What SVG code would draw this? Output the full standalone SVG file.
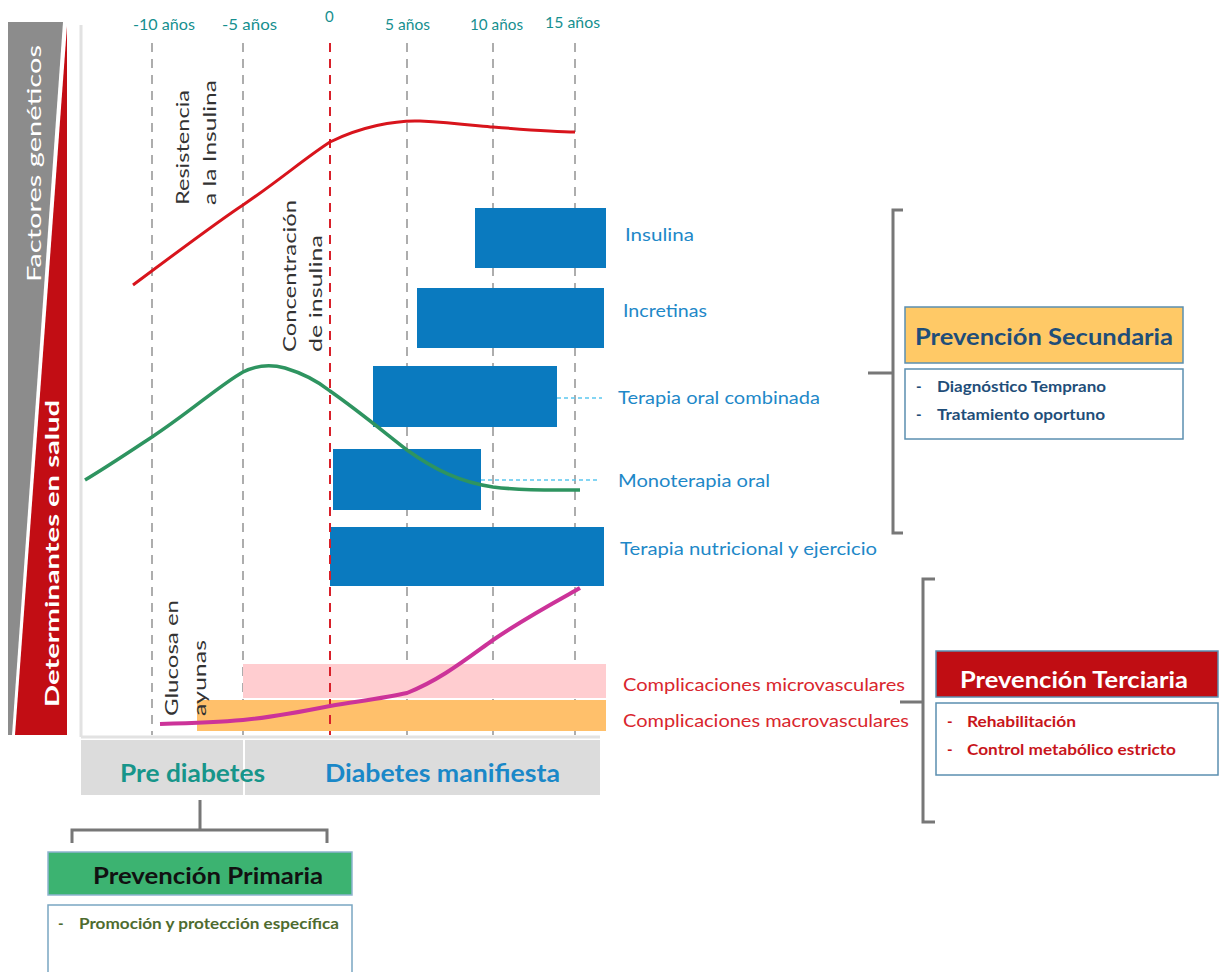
<svg xmlns="http://www.w3.org/2000/svg" width="1220" height="972" viewBox="0 0 1220 972">
<defs>
<style>
text{font-family:Lato,"Liberation Sans",sans-serif}
.yr{fill:#168f8f;font-size:15px}
.grid{stroke:#999;stroke-width:1.6;stroke-dasharray:9 7;fill:none}
.bar{fill:#0a7abf}
.tl{fill:#1e88c8;font-size:18px}
.cl{fill:#d9262e;font-size:18px}
.vt{fill:#333;font-size:17px}
.br{stroke:#777;stroke-width:3;fill:none}
.hb{font-weight:bold;font-size:22px}
.it{font-weight:bold;font-size:15px}
</style>
</defs>
<rect width="1220" height="972" fill="#fff"/>
<g id="side">
<polygon points="8,22 63,22 12,735 8,735" fill="#8c8c8c"/>
<polygon points="67,26 67,735 15,735" fill="#c20d14"/>
<text transform="translate(41,282) rotate(-90)" fill="#fff" font-size="20" textLength="237" lengthAdjust="spacingAndGlyphs">Factores genéticos</text>
<text transform="translate(59,707) rotate(-90)" fill="#fff" font-size="19" font-weight="bold" textLength="307" lengthAdjust="spacingAndGlyphs">Determinantes en salud</text>
</g>
<g id="axes">
<line x1="81" y1="25" x2="81" y2="737" stroke="#e2e2e2" stroke-width="3"/>
<line x1="81" y1="737" x2="600" y2="737" stroke="#e2e2e2" stroke-width="3"/>
</g>
<g id="years">
<text class="yr" x="133" y="30" textLength="62" lengthAdjust="spacingAndGlyphs">-10 años</text>
<text class="yr" x="222" y="30" textLength="55" lengthAdjust="spacingAndGlyphs">-5 años</text>
<text class="yr" x="325" y="22">0</text>
<text class="yr" x="385" y="30" textLength="45" lengthAdjust="spacingAndGlyphs">5 años</text>
<text class="yr" x="470" y="30" textLength="53" lengthAdjust="spacingAndGlyphs">10 años</text>
<text class="yr" x="545" y="28" textLength="55" lengthAdjust="spacingAndGlyphs">15 años</text>
</g>
<g id="grid">
<line class="grid" x1="152" y1="43" x2="152" y2="735"/>
<line class="grid" x1="243" y1="43" x2="243" y2="735"/>
<line class="grid" x1="407" y1="43" x2="407" y2="735"/>
<line class="grid" x1="493" y1="43" x2="493" y2="735"/>
<line class="grid" x1="575" y1="43" x2="575" y2="735"/>
</g>
<g id="bands">
<rect x="243" y="664" width="363" height="34" fill="#ffcdd0"/>
<rect x="197" y="700" width="409" height="31" fill="#ffc06b"/>
</g>
<g id="bars">
<rect class="bar" x="475" y="208" width="131" height="60"/>
<rect class="bar" x="417" y="288" width="187" height="60"/>
<rect class="bar" x="373" y="366" width="184" height="61"/>
<rect class="bar" x="333" y="449" width="148" height="61"/>
<rect class="bar" x="330" y="527" width="274" height="59"/>
</g>
<line class="grid" x1="330" y1="43" x2="330" y2="735" style="stroke:#d8202a;stroke-width:2"/>
<g id="connectors">
<line x1="557" y1="398" x2="602" y2="398" stroke="#5cc8f0" stroke-width="1.5" stroke-dasharray="4 3"/>
<line x1="481" y1="480" x2="600" y2="480" stroke="#5cc8f0" stroke-width="1.5" stroke-dasharray="4 3"/>
</g>
<g id="curves">
<path d="M133,285 C180,250 220,220 243,205 C280,180 305,158 330,142 C360,127 395,120 420,121 C455,123 480,126 493,127 C530,130 555,132 575,132" fill="none" stroke="#d8141c" stroke-width="3"/>
<path d="M85,480 C110,465 135,448 152,437 C190,412 220,385 243,372 C255,366 270,364 285,368 C305,374 320,383 330,391 C360,412 385,433 407,450 C435,470 460,482 493,487 C525,491 550,490 580,490" fill="none" stroke="#2e9460" stroke-width="3.5"/>
<path d="M160,724 C195,723 220,722 243,720 C275,717 305,711 330,706 C360,701 385,698 407,693 C440,680 465,660 493,640 C525,618 555,602 580,588" fill="none" stroke="#cc3399" stroke-width="4"/>
</g>
<g id="curve-labels">
<text class="vt" transform="translate(189,205) rotate(-90)" textLength="115" lengthAdjust="spacingAndGlyphs">Resistencia</text>
<text class="vt" transform="translate(216,205) rotate(-90)" textLength="125" lengthAdjust="spacingAndGlyphs">a la Insulina</text>
<text class="vt" transform="translate(296,352) rotate(-90)" textLength="152" lengthAdjust="spacingAndGlyphs">Concentración</text>
<text class="vt" transform="translate(322,352) rotate(-90)" textLength="117" lengthAdjust="spacingAndGlyphs">de insulina</text>
<text class="vt" transform="translate(178,716) rotate(-90)" textLength="116" lengthAdjust="spacingAndGlyphs">Glucosa en</text>
<text class="vt" transform="translate(206,716) rotate(-90)" textLength="76" lengthAdjust="spacingAndGlyphs">ayunas</text>
</g>
<g id="therapy-labels">
<text class="tl" x="625" y="241" textLength="69" lengthAdjust="spacingAndGlyphs">Insulina</text>
<text class="tl" x="623" y="317" textLength="84" lengthAdjust="spacingAndGlyphs">Incretinas</text>
<text class="tl" x="618" y="404" textLength="202" lengthAdjust="spacingAndGlyphs">Terapia oral combinada</text>
<text class="tl" x="618" y="487" textLength="152" lengthAdjust="spacingAndGlyphs">Monoterapia oral</text>
<text class="tl" x="620" y="555" textLength="257" lengthAdjust="spacingAndGlyphs">Terapia nutricional y ejercicio</text>
<text class="cl" x="623" y="691" textLength="282" lengthAdjust="spacingAndGlyphs">Complicaciones microvasculares</text>
<text class="cl" x="623" y="727" textLength="286" lengthAdjust="spacingAndGlyphs">Complicaciones macrovasculares</text>
</g>
<g id="phases">
<rect x="81" y="740" width="519" height="55" fill="#dcdcdc"/>
<line x1="244" y1="740" x2="244" y2="795" stroke="#fff" stroke-width="2"/>
<text x="120" y="782" fill="#17958a" font-size="24" font-weight="bold" textLength="145" lengthAdjust="spacingAndGlyphs">Pre diabetes</text>
<text x="325" y="782" fill="#1a88c8" font-size="24" font-weight="bold" textLength="235" lengthAdjust="spacingAndGlyphs">Diabetes manifiesta</text>
</g>
<g id="brackets">
<path class="br" d="M200,800 V830 M72,843 V830 H327 V843"/>
<path class="br" d="M903,210 H893 V533 H903 M868,373 H893"/>
<path class="br" d="M935,579 H923 V822 H935 M900,702 H923"/>
</g>
<g id="primaria">
<rect x="48" y="852" width="304" height="43" fill="#3cb371" stroke="#8fb4d0" stroke-width="1.5"/>
<text class="hb" x="93" y="884" fill="#111" textLength="230" lengthAdjust="spacingAndGlyphs">Prevención Primaria</text>
<rect x="48" y="905" width="304" height="75" fill="#fff" stroke="#7aa6c2" stroke-width="1.5"/>
<text class="it" x="58" y="929" fill="#4e6b2f">-</text>
<text class="it" x="79" y="929" fill="#4e6b2f" textLength="260" lengthAdjust="spacingAndGlyphs">Promoción y protección específica</text>
</g>
<g id="secundaria">
<rect x="905" y="307" width="278" height="56" fill="#ffc966" stroke="#5b8fb0" stroke-width="1.5"/>
<text class="hb" x="915" y="345" fill="#1f4e79" font-size="23" textLength="258" lengthAdjust="spacingAndGlyphs">Prevención Secundaria</text>
<rect x="905" y="369" width="278" height="70" fill="#fff" stroke="#5b8fb0" stroke-width="1.5"/>
<text class="it" x="916" y="392" fill="#1f4e79">-</text>
<text class="it" x="937" y="392" fill="#1f4e79" textLength="169" lengthAdjust="spacingAndGlyphs">Diagnóstico Temprano</text>
<text class="it" x="916" y="420" fill="#1f4e79">-</text>
<text class="it" x="937" y="420" fill="#1f4e79" textLength="168" lengthAdjust="spacingAndGlyphs">Tratamiento oportuno</text>
</g>
<g id="terciaria">
<rect x="936" y="651" width="282" height="46" fill="#c00d13" stroke="#5b8fb0" stroke-width="1.5"/>
<text class="hb" x="960" y="688" fill="#fff" textLength="228" lengthAdjust="spacingAndGlyphs">Prevención Terciaria</text>
<rect x="936" y="703" width="282" height="72" fill="#fff" stroke="#5b8fb0" stroke-width="1.5"/>
<text class="it" x="947" y="727" fill="#c8151b">-</text>
<text class="it" x="967" y="727" fill="#c8151b" textLength="109" lengthAdjust="spacingAndGlyphs">Rehabilitación</text>
<text class="it" x="947" y="755" fill="#c8151b">-</text>
<text class="it" x="967" y="755" fill="#c8151b" textLength="209" lengthAdjust="spacingAndGlyphs">Control metabólico estricto</text>
</g>
</svg>
